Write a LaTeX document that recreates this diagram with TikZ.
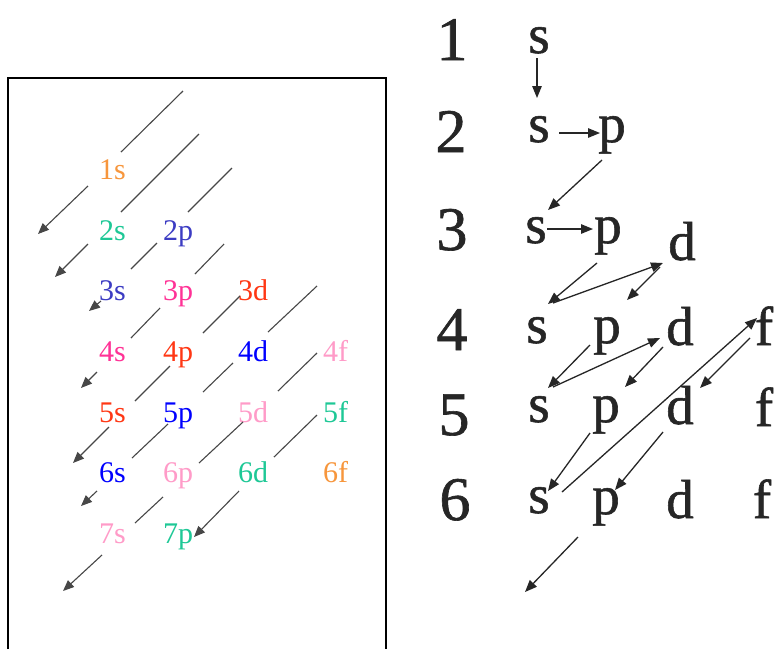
\documentclass[tikz,border=0pt]{standalone}
\usepackage{fontspec}
\setmainfont{Liberation Serif}
\newfontfamily\rightfont[FakeBold=1.0]{Liberation Serif}
\usetikzlibrary{arrows.meta}
\definecolor{corange}{RGB}{247,150,60}
\definecolor{cteal}{RGB}{30,200,150}
\definecolor{cslate}{RGB}{60,60,195}
\definecolor{chot}{RGB}{255,50,150}
\definecolor{cred}{RGB}{255,55,20}
\definecolor{cblue}{RGB}{0,0,255}
\definecolor{clpink}{RGB}{255,155,200}
\begin{document}
\begin{tikzpicture}[x=1pt,y=-1pt,
  lab/.style={anchor=base west, inner sep=0pt, font=\fontsize{30}{36}\selectfont},
  num/.style={anchor=base, inner sep=0pt, text=black!85, font=\rightfont\fontsize{62}{70}\selectfont},
  let/.style={anchor=base, inner sep=0pt, text=black!85, font=\rightfont\fontsize{55}{60}\selectfont},
  seg/.style={draw=black!72, line width=1.1pt},
  larr/.style={seg, -{Triangle[length=11pt,width=9pt]}},
  rarr/.style={draw=black!85, line width=1.3pt, -{Triangle[length=12pt,width=9.5pt]}}]
\useasboundingbox (0,0) rectangle (775,649);
\fill[white] (0,0) rectangle (775,649);
% left frame
\draw[line width=1.5pt] (8,649) -- (8,78) -- (386,78) -- (386,649);
% left labels
\node[lab,text=corange] (l1s) at (99,179) {1s};
\node[lab,text=cteal]   (l2s) at (99,240) {2s};
\node[lab,text=cslate]  (l2p) at (163,240) {2p};
\node[lab,text=cslate]  (l3s) at (99,300) {3s};
\node[lab,text=chot]    (l3p) at (163,300) {3p};
\node[lab,text=cred]    (l3d) at (238,300) {3d};
\node[lab,text=chot]    (l4s) at (99,361) {4s};
\node[lab,text=cred]    (l4p) at (163,361) {4p};
\node[lab,text=cblue]   (l4d) at (238,361) {4d};
\node[lab,text=clpink]  (l4f) at (323,361) {4f};
\node[lab,text=cred]    (l5s) at (99,422) {5s};
\node[lab,text=cblue]   (l5p) at (163,422) {5p};
\node[lab,text=clpink]  (l5d) at (238,422) {5d};
\node[lab,text=cteal]   (l5f) at (323,422) {5f};
\node[lab,text=cblue]   (l6s) at (99,482) {6s};
\node[lab,text=clpink]  (l6p) at (163,482) {6p};
\node[lab,text=cteal]   (l6d) at (238,482) {6d};
\node[lab,text=corange] (l6f) at (323,482) {6f};
\node[lab,text=clpink]  (l7s) at (99,543) {7s};
\node[lab,text=cteal]   (l7p) at (163,543) {7p};
% left diagonals
\draw[seg] (183,91) -- (121,152);
\draw[larr] (88,186) -- (38,234);
\draw[seg] (199,134) -- (121,212);
\draw[larr] (88,244) -- (55,277);
\draw[seg] (232,168) -- (188,212);
\draw[seg] (157,243) -- (131,269);
\draw[larr] (101,301) -- (89,311);
\draw[seg] (224,244) -- (195,274);
\draw[seg] (160,308) -- (131,338);
\draw[larr] (97,372) -- (81,388);
\draw[seg] (240,296) -- (203,333);
\draw[seg] (170,366) -- (135,401);
\draw[larr] (109,427) -- (73,463);
\draw[seg] (317,286) -- (268,332);
\draw[seg] (233,363) -- (203,392);
\draw[seg] (168,424) -- (132,458);
\draw[larr] (97,491) -- (81,506);
\draw[seg] (317,353) -- (278,391);
\draw[seg] (243,422) -- (199,463);
\draw[seg] (163,497) -- (135,523);
\draw[larr] (102,555) -- (63,591);
\draw[seg] (317,415) -- (274,457);
\draw[larr] (239,491) -- (194,537);
% right: shell numbers
\node[num] (n1) at (452,60) {1};
\node[num] (n2) at (451,152) {2};
\node[num] (n3) at (452,250) {3};
\node[num] (n4) at (452,350) {4};
\node[num] (n5) at (454,435) {5};
\node[num] (n6) at (455,520) {6};
% right: subshell letters
\node[let] (s1) at (539,53) {s};
\node[let] (s2) at (539,142) {s};
\node[let] (p2) at (612,142) {p};
\node[let] (s3) at (536,243) {s};
\node[let] (p3) at (608,243) {p};
\node[let] (d3) at (682,260) {d};
\node[let] (s4) at (537,343) {s};
\node[let] (p4) at (607,343) {p};
\node[let] (d4) at (680,345) {d};
\node[let] (f4) at (764,345) {f};
\node[let] (s5) at (539,422) {s};
\node[let] (p5) at (606,422) {p};
\node[let] (d5) at (680,424) {d};
\node[let] (f5) at (764,426) {f};
\node[let] (s6) at (539,513) {s};
\node[let] (p6) at (606,514) {p};
\node[let] (d6) at (680,518) {d};
\node[let] (f6) at (762,518) {f};
\coordinate (out7) at (525,592);
% right arrows
\draw[rarr] ([shift={(-2,5)}]s1.base) -- ([shift={(-2,-44)}]s2.base);
\draw[rarr] ([shift={(20,-9)}]s2.base) -- ([shift={(-12,-9)}]p2.base);
\draw[rarr] ([shift={(-10,18)}]p2.base) -- ([shift={(12,-33)}]s3.base);
\draw[rarr] ([shift={(11,-14)}]s3.base) -- ([shift={(-15,-14)}]p3.base);
\draw[rarr] ([shift={(-11,20)}]p3.base) -- ([shift={(11,-39)}]s4.base);
\draw[rarr] ([shift={(16,-40)}]s4.base) -- ([shift={(-19,3)}]d3.base);
\draw[rarr] ([shift={(-22,7)}]d3.base) -- ([shift={(20,-43)}]p4.base);
\draw[rarr] ([shift={(-17,2)}]p4.base) -- ([shift={(9,-34)}]s5.base);
\draw[rarr] ([shift={(14,-35)}]s5.base) -- ([shift={(-20,-7)}]d4.base);
\draw[rarr] ([shift={(-17,2)}]d4.base) -- ([shift={(19,-35)}]p5.base);
\draw[rarr] ([shift={(-16,11)}]p5.base) -- ([shift={(9,-22)}]s6.base);
\draw[rarr] ([shift={(23,-21)}]s6.base) -- ([shift={(-7,-27)}]f4.base);
\draw[rarr] ([shift={(-14,-7)}]f4.base) -- ([shift={(20,-36)}]d5.base);
\draw[rarr] ([shift={(-17,8)}]d5.base) -- ([shift={(9,-24)}]p6.base);
\draw[rarr] ([shift={(-28,23)}]p6.base) -- (out7);
\end{tikzpicture}
\end{document}
